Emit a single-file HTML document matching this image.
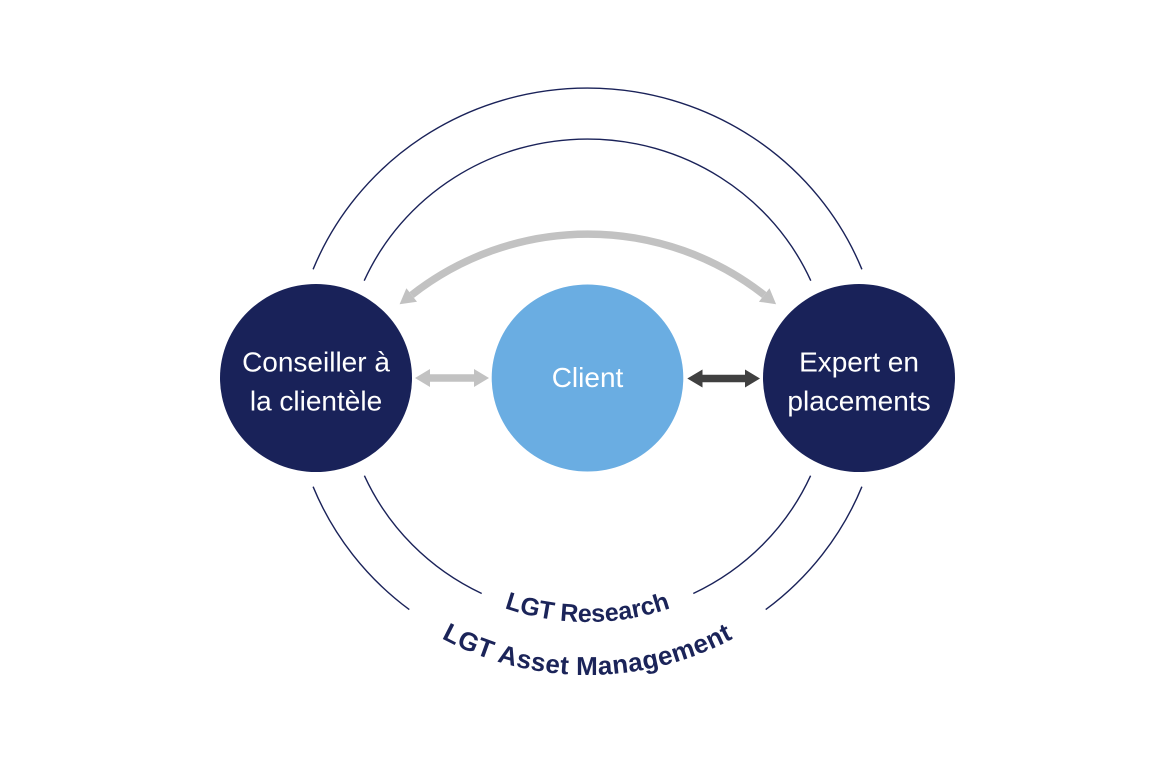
<!DOCTYPE html>
<html>
<head>
<meta charset="utf-8">
<style>
  html, body { margin:0; padding:0; background:#ffffff; }
  body { width:1176px; height:768px; overflow:hidden; }
  svg { display:block; }
  .ct { font-family:"Liberation Sans", sans-serif; font-size:28px; fill:#ffffff; }
  .bt { font-family:"Liberation Sans", sans-serif; font-weight:bold; font-size:25px; fill:#1b2459; }
</style>
</head>
<body>
<svg width="1176" height="768" viewBox="0 0 1176 768" xmlns="http://www.w3.org/2000/svg">
  <defs>
    <path id="pRes" d="M 338 378 A 249.5 244 0 0 0 837 378"/>
    <path id="pAsm" d="M 284.5 378 A 303 297 0 0 0 890.5 378"/>
  </defs>

  <!-- navy arcs -->
  <g fill="none" stroke="#1a2259" stroke-width="1.4">
    <path d="M 313.1 269.3 A 296 290 0 0 1 861.9 269.3"/>
    <path d="M 364.2 280.7 A 244.5 239 0 0 1 810.8 280.7"/>
    <path d="M 313.1 486.7 A 296 290 0 0 0 409.3 609.6"/>
    <path d="M 765.7 609.6 A 296 290 0 0 0 861.9 486.7"/>
    <path d="M 364.4 475.7 A 244.5 239 0 0 0 481.7 593.5"/>
    <path d="M 693.3 593.5 A 244.5 239 0 0 0 810.6 475.7"/>
  </g>

  <!-- gray curved double arrow -->
  <path d="M 411.7 295 A 285.6 285.6 0 0 1 764.2 295" fill="none" stroke="#c2c2c2" stroke-width="7.4"/>
  <polygon points="399.6,304.3 406.4,288.3 417,301.7" fill="#c2c2c2"/>
  <polygon points="776.1,304.3 769.5,288.3 758.9,301.7" fill="#c2c2c2"/>

  <!-- circles -->
  <ellipse cx="316" cy="378" rx="96" ry="94" fill="#192259"/>
  <ellipse cx="587.5" cy="378" rx="95.8" ry="93.5" fill="#6aade2"/>
  <ellipse cx="859" cy="378" rx="96" ry="94" fill="#192259"/>

  <!-- gray straight double arrow -->
  <polygon points="415,378 430,369 430,374.3 474,374.3 474,369 489,378 474,387 474,381.7 430,381.7 430,387" fill="#c2c2c2"/>
  <!-- dark straight double arrow -->
  <polygon points="687.3,378.5 702.5,369.5 702.5,374.8 745,374.8 745,369.5 760,378.5 745,387.5 745,382.2 702.5,382.2 702.5,387.5" fill="#404040"/>

  <!-- circle labels -->
  <text class="ct" x="316" y="371.7" text-anchor="middle">Conseiller à</text>
  <text class="ct" x="316" y="410.7" text-anchor="middle">la clientèle</text>
  <text class="ct" x="587.5" y="387" text-anchor="middle">Client</text>
  <text class="ct" x="859" y="371.7" text-anchor="middle">Expert en</text>
  <text class="ct" x="859" y="410.7" text-anchor="middle">placements</text>

  <!-- curved labels -->
  <text class="bt"><textPath href="#pRes" startOffset="50%" text-anchor="middle">LGT Research</textPath></text>
  <text class="bt" style="font-size:26px" letter-spacing="0.45"><textPath href="#pAsm" startOffset="50%" text-anchor="middle">LGT Asset Management</textPath></text>
</svg>
</body>
</html>
